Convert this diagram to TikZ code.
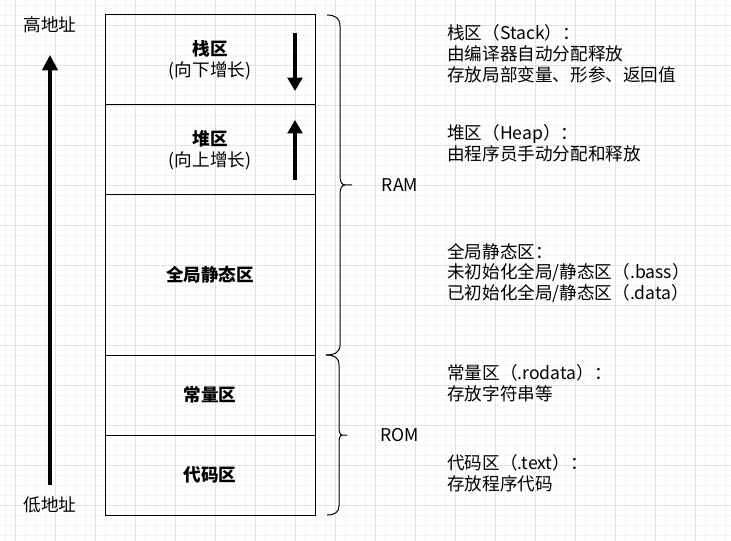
\documentclass[tikz,border=0pt]{standalone}
\usepackage{fontspec}
\setmainfont{Noto Sans CJK SC}
\usetikzlibrary{arrows.meta,positioning}

\newcommand{\memfont}{\fontsize{13.2}{15.6}\selectfont}

\tikzset{
  gridminor/.style={color={rgb, 255:red, 244; green, 244; blue, 244 }, line width=0.5pt},
  gridmajor/.style={color={rgb, 255:red, 226; green, 226; blue, 226 }, line width=0.6pt},
  region/.style={draw, line width=0.75pt, minimum width=157.5pt, inner sep=0pt, align=center, font=\memfont},
  growarrow/.style={line width=2.4pt, -{Triangle[width=11pt,length=10pt]}},
  addrarrow/.style={line width=2.4pt, -{Triangle[width=11.5pt,length=11.5pt]}},
  brace/.style={line width=0.75pt},
  note/.style={anchor=west, align=left, inner sep=0pt, font=\memfont},
  label/.style={inner sep=0pt, font=\memfont},
}

\begin{document}
\begin{tikzpicture}[x=0.75pt,y=0.75pt,yscale=-1,xscale=1]
    \useasboundingbox (0,0) rectangle (731,541);
    \fill[white] (0,0) rectangle (731,541);

    % Grid
    \foreach \gx in {5,15,...,725} \draw[gridminor] (\gx,0) -- (\gx,541);
    \foreach \gy in {5,15,...,535} \draw[gridminor] (0,\gy) -- (731,\gy);
    \foreach \gx in {15,55,...,695} \draw[gridmajor] (\gx,0) -- (\gx,541);
    \foreach \gy in {25,65,...,505} \draw[gridmajor] (0,\gy) -- (731,\gy);

    %Shape: Rectangle [stack]
    \node[region, minimum height=67.5pt] (stack) at (210,60) {\textbf{栈区}\\(向下增长)};
    %Shape: Rectangle [heap]
    \node[region, minimum height=67.5pt] (heap) at (210,150) {\textbf{堆区}\\(向上增长)};
    %Shape: Rectangle [static]
    \node[region, minimum height=120pt] (static) at (210,275) {\textbf{全局静态区}};
    %Shape: Rectangle [const]
    \node[region, minimum height=60pt] (const) at (210,395) {\textbf{常量区}};
    %Shape: Rectangle [code]
    \node[region, minimum height=60pt] (code) at (210,475) {\textbf{代码区}};

    %Straight Lines [grow]
    \coordinate (stacktop) at (295,33);
    \coordinate (stackend) at (295,91);
    \draw[growarrow] (stacktop) -- (stackend);
    \coordinate (heapbot) at (295,180);
    \coordinate (heapend) at (295,120);
    \draw[growarrow] (heapbot) -- (heapend);

    %Straight Lines [address]
    \node[label] (high) at (50,25) {高地址};
    \node[label] (low) at (50,505) {低地址};
    \coordinate (lowstart) at (50,485);
    \coordinate (highend) at (50,55);
    \draw[addrarrow] (lowstart) -- (highend);

    %Shape: Brace [RAM]
    \draw[brace] (327,15) .. controls (335,15) and (340,18) .. (340,26) -- (340,176) .. controls (340,182) and (342,185) .. (345,185) -- (352,185) ;
    \draw[brace] (345,185) .. controls (342,185) and (340,188) .. (340,194) -- (340,345) .. controls (340,352) and (335,355) .. (326,355) ;
    %Shape: Brace [ROM]
    \draw[brace] (326,355) .. controls (335,355) and (339,358) .. (339,365) -- (339,427) .. controls (339,432) and (340,435) .. (342,435) -- (347,435) ;
    \draw[brace] (342,435) .. controls (340,435) and (339,438) .. (339,443) -- (339,506) .. controls (339,512) and (335,515) .. (327,515) ;

    % Text Node
    \node[label] (ram) at (400,185) {RAM};
    % Text Node
    \node[label] (rom) at (400,435) {ROM};

    % Text Node
    \node[note] (stacknote) at (447,53.5) {栈区（Stack）：\\由编译器自动分配释放\\存放局部变量、形参、返回值};
    % Text Node
    \node[note] (heapnote) at (447,143) {堆区（Heap）：\\由程序员手动分配和释放};
    % Text Node
    \node[note] (staticnote) at (447,273) {全局静态区：\\未初始化全局/静态区（.bass）\\已初始化全局/静态区（.data）};
    % Text Node
    \node[note] (constnote) at (447,383) {常量区（.rodata）：\\存放字符串等};
    % Text Node
    \node[note] (codenote) at (447,473) {代码区（.text）：\\存放程序代码};

\end{tikzpicture}
\end{document}
